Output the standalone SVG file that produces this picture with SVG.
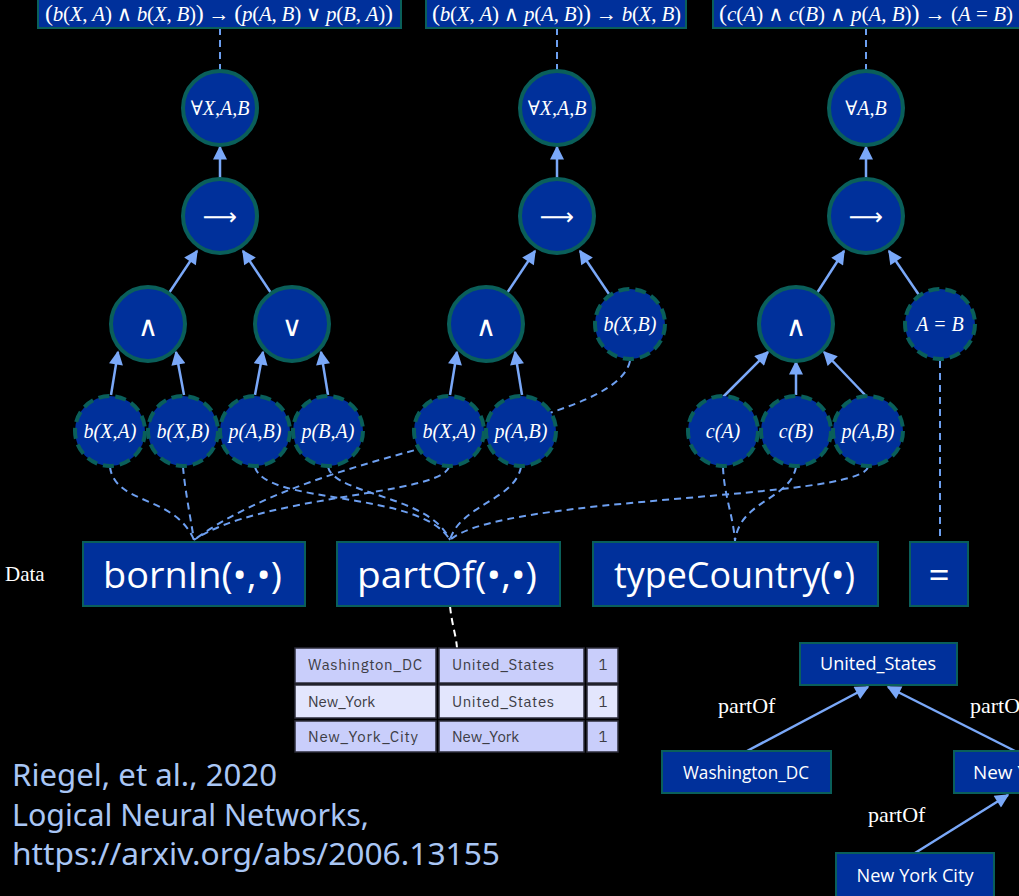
<svg xmlns="http://www.w3.org/2000/svg" width="1019" height="896" viewBox="0 0 1019 896">
  <defs>
    <marker id="tip" viewBox="0 0 10 10" refX="9" refY="5" markerUnits="userSpaceOnUse" markerWidth="15" markerHeight="14" orient="auto">
      <path d="M0,0 L10,5 L0,10 z" fill="#7aa8f8"/>
    </marker>
    <style>
      .node { fill: #00309b; stroke: #0a5f5a; stroke-width: 4; }
      .leaf { fill: #00309b; stroke: #0a5f5a; stroke-width: 4; stroke-dasharray: 11 6; }
      .box { fill: #00309b; stroke: #0a5f5a; stroke-width: 2; }
      .arrow { stroke: #7aa8f8; stroke-width: 2.5; fill: none; marker-end: url(#tip); }
      .dash { stroke: #6d9ff0; stroke-width: 2; fill: none; stroke-dasharray: 7 5; }
      .f { font-family: "Liberation Serif", "DejaVu Serif", serif; font-size: 21px; fill: #ffffff; }
      .i { font-style: italic; }
      .big { font-size: 24px; }
      .lbl { font-family: "Liberation Serif", "DejaVu Serif", serif; font-style: italic; font-size: 20px; fill: #ffffff; text-anchor: middle; }
      .op { font-family: "DejaVu Sans", sans-serif; font-size: 28px; fill: #ffffff; text-anchor: middle; }
      .arr { font-family: "DejaVu Sans", sans-serif; font-size: 24px; fill: #ffffff; text-anchor: middle; }
      .data { font-family: "Open Sans", "Noto Sans", sans-serif; font-size: 37px; fill: #ffffff; }
      .cell1 { fill: #c9cefb; stroke: #2d2d3a; stroke-width: 1.5; }
      .cell2 { fill: #e3e6fd; stroke: #2d2d3a; stroke-width: 1.5; }
      .tt { font-family: "IBM Plex Sans", "Noto Sans", sans-serif; font-size: 15px; fill: #3d3d45; }
      .tb { font-family: "Open Sans", "Noto Sans", sans-serif; font-size: 18px; fill: #ffffff; text-anchor: middle; }
      .tbs { font-family: "Open Sans", "Noto Sans", sans-serif; font-size: 18px; fill: #ffffff; text-anchor: start; }
      .rel { font-family: "Liberation Serif", "DejaVu Serif", serif; font-size: 22px; fill: #ffffff; }
      .cite { font-family: "Noto Sans", "Liberation Sans", sans-serif; font-size: 30px; fill: #a9c6f5; }
    </style>
  </defs>

  <rect width="1019" height="896" fill="#000000"/>

  <!-- connectors: grounding links (dashed) and logic edges (solid) -->
  <g id="connectors">
    <path class="dash" d="M220,28 V70"/>
    <path class="dash" d="M557,28 V70"/>
    <path class="dash" d="M866,28 V70"/>

    <path class="dash" d="M110,467 C115,505 175,495 194,540"/>
    <path class="dash" d="M183,467 C185,490 190,515 194,540"/>
    <path class="dash" d="M449,467 C440,495 260,495 194,540"/>
    <path class="dash" d="M630,361 C615,430 330,440 194,540"/>

    <path class="dash" d="M255,467 C265,505 420,490 450,540"/>
    <path class="dash" d="M328,467 C335,495 430,495 450,540"/>
    <path class="dash" d="M521,467 C515,500 460,505 450,540"/>
    <path class="dash" d="M868,467 C860,500 500,495 450,540"/>

    <path class="dash" d="M723,467 C724,495 733,515 735,541"/>
    <path class="dash" d="M796,467 C790,500 740,500 735,541"/>
    <path class="dash" d="M940,361 V541"/>

    <path class="dash" d="M450,606 C452,625 456,635 457,648" style="stroke:#ffffff"/>

    <line class="arrow" x1="220" y1="180" x2="220" y2="147"/>
    <line class="arrow" x1="169" y1="293" x2="197" y2="251"/>
    <line class="arrow" x1="271" y1="293" x2="243" y2="251"/>
    <line class="arrow" x1="111" y1="395" x2="118" y2="352"/>
    <line class="arrow" x1="184" y1="395" x2="176" y2="352"/>
    <line class="arrow" x1="255" y1="395" x2="263" y2="352"/>
    <line class="arrow" x1="328" y1="395" x2="321" y2="352"/>

    <line class="arrow" x1="557" y1="180" x2="557" y2="147"/>
    <line class="arrow" x1="507" y1="293" x2="535" y2="251"/>
    <line class="arrow" x1="609" y1="294" x2="580" y2="251"/>
    <line class="arrow" x1="450" y1="395" x2="457" y2="352"/>
    <line class="arrow" x1="522" y1="395" x2="515" y2="352"/>

    <line class="arrow" x1="866" y1="180" x2="866" y2="147"/>
    <line class="arrow" x1="817" y1="293" x2="844" y2="251"/>
    <line class="arrow" x1="919" y1="295" x2="889" y2="251"/>
    <line class="arrow" x1="723" y1="397" x2="768" y2="352"/>
    <line class="arrow" x1="796" y1="395" x2="796" y2="362"/>
    <line class="arrow" x1="867" y1="397" x2="824" y2="352"/>

    <line class="arrow" x1="747" y1="751" x2="868" y2="687"/>
    <line class="arrow" x1="1015" y1="751" x2="888" y2="687"/>
    <line class="arrow" x1="915" y1="853" x2="1008" y2="795"/>
  </g>

  <!-- rule formulas -->
  <g id="rule1">
    <rect class="box" x="38" y="-2" width="363" height="30"/>
    <text class="f" x="45" y="21" textLength="348"><tspan class="big">(</tspan><tspan class="i">b</tspan>(<tspan class="i">X</tspan>, <tspan class="i">A</tspan>) ∧ <tspan class="i">b</tspan>(<tspan class="i">X</tspan>, <tspan class="i">B</tspan>)<tspan class="big">)</tspan> → <tspan class="big">(</tspan><tspan class="i">p</tspan>(<tspan class="i">A</tspan>, <tspan class="i">B</tspan>) ∨ <tspan class="i">p</tspan>(<tspan class="i">B</tspan>, <tspan class="i">A</tspan>)<tspan class="big">)</tspan></text>
  </g>
  <g id="rule2">
    <rect class="box" x="426" y="-2" width="260" height="30"/>
    <text class="f" x="432" y="21" textLength="249"><tspan class="big">(</tspan><tspan class="i">b</tspan>(<tspan class="i">X</tspan>, <tspan class="i">A</tspan>) ∧ <tspan class="i">p</tspan>(<tspan class="i">A</tspan>, <tspan class="i">B</tspan>)<tspan class="big">)</tspan> → <tspan class="i">b</tspan>(<tspan class="i">X</tspan>, <tspan class="i">B</tspan>)</text>
  </g>
  <g id="rule3">
    <rect class="box" x="713" y="-2" width="310" height="30"/>
    <text class="f" x="719" y="21" textLength="294"><tspan class="big">(</tspan><tspan class="i">c</tspan>(<tspan class="i">A</tspan>) ∧ <tspan class="i">c</tspan>(<tspan class="i">B</tspan>) ∧ <tspan class="i">p</tspan>(<tspan class="i">A</tspan>, <tspan class="i">B</tspan>)<tspan class="big">)</tspan> → (<tspan class="i">A</tspan> = <tspan class="i">B</tspan>)</text>
  </g>

  <!-- rule 1 tree -->
  <g id="forall1"><circle class="node" cx="220" cy="108" r="37"/><text class="lbl" x="220" y="115" font-size="19">∀X,A,B</text></g>
  <g id="impl1"><circle class="node" cx="220" cy="216" r="37"/><text class="arr" x="220" y="225">⟶</text></g>
  <g id="and1"><circle class="node" cx="148" cy="324" r="37"/><text class="op" x="148" y="336">∧</text></g>
  <g id="or1"><circle class="node" cx="292" cy="324" r="37"/><text class="op" x="292" y="336">∨</text></g>
  <g id="b_XA_1"><circle class="leaf" cx="110" cy="431" r="35"/><text class="lbl" x="110" y="438">b(X,A)</text></g>
  <g id="b_XB_1"><circle class="leaf" cx="183" cy="431" r="35"/><text class="lbl" x="183" y="438">b(X,B)</text></g>
  <g id="p_AB_1"><circle class="leaf" cx="255" cy="431" r="35"/><text class="lbl" x="255" y="438">p(A,B)</text></g>
  <g id="p_BA_1"><circle class="leaf" cx="328" cy="431" r="35"/><text class="lbl" x="328" y="438">p(B,A)</text></g>

  <!-- rule 2 tree -->
  <g id="forall2"><circle class="node" cx="557" cy="108" r="37"/><text class="lbl" x="557" y="115" font-size="19">∀X,A,B</text></g>
  <g id="impl2"><circle class="node" cx="557" cy="216" r="37"/><text class="arr" x="557" y="225">⟶</text></g>
  <g id="and2"><circle class="node" cx="486" cy="324" r="37"/><text class="op" x="486" y="336">∧</text></g>
  <g id="b_XB_2"><circle class="leaf" cx="630" cy="324" r="35"/><text class="lbl" x="630" y="331">b(X,B)</text></g>
  <g id="b_XA_2"><circle class="leaf" cx="449" cy="431" r="35"/><text class="lbl" x="449" y="438">b(X,A)</text></g>
  <g id="p_AB_2"><circle class="leaf" cx="521" cy="431" r="35"/><text class="lbl" x="521" y="438">p(A,B)</text></g>

  <!-- rule 3 tree -->
  <g id="forall3"><circle class="node" cx="866" cy="108" r="37"/><text class="lbl" x="866" y="115" font-size="19">∀A,B</text></g>
  <g id="impl3"><circle class="node" cx="866" cy="216" r="37"/><text class="arr" x="866" y="225">⟶</text></g>
  <g id="and3"><circle class="node" cx="796" cy="324" r="37"/><text class="op" x="796" y="336">∧</text></g>
  <g id="eq_AB"><circle class="leaf" cx="940" cy="324" r="35"/><text class="lbl" x="940" y="331" font-size="19">A = B</text></g>
  <g id="c_A"><circle class="leaf" cx="723" cy="431" r="35"/><text class="lbl" x="723" y="438">c(A)</text></g>
  <g id="c_B"><circle class="leaf" cx="796" cy="431" r="35"/><text class="lbl" x="796" y="438">c(B)</text></g>
  <g id="p_AB_3"><circle class="leaf" cx="868" cy="431" r="35"/><text class="lbl" x="868" y="438">p(A,B)</text></g>

  <!-- data predicates -->
  <text x="5" y="581" font-family="Liberation Serif, serif" font-size="21" fill="#ffffff">Data</text>
  <g id="bornIn"><rect class="box" x="83" y="542" width="222" height="64"/><text class="data" x="103" y="588" textLength="179" lengthAdjust="spacingAndGlyphs">bornIn(•,•)</text></g>
  <g id="partOf"><rect class="box" x="337" y="542" width="223" height="64"/><text class="data" x="357" y="588" textLength="180" lengthAdjust="spacingAndGlyphs">partOf(•,•)</text></g>
  <g id="typeCountry"><rect class="box" x="593" y="542" width="285" height="64"/><text class="data" x="614" y="588" textLength="241" lengthAdjust="spacingAndGlyphs">typeCountry(•)</text></g>
  <g id="equals"><rect class="box" x="910" y="542" width="58" height="64"/><text class="data" x="939" y="588" text-anchor="middle">=</text></g>

  <!-- partOf table -->
  <g id="partOfTable">
    <rect class="cell1" x="295" y="648" width="141" height="35"/>
    <rect class="cell1" x="439" y="648" width="145" height="35"/>
    <rect class="cell1" x="587" y="648" width="31" height="35"/>
    <rect class="cell2" x="295" y="685" width="141" height="33"/>
    <rect class="cell2" x="439" y="685" width="145" height="33"/>
    <rect class="cell2" x="587" y="685" width="31" height="33"/>
    <rect class="cell1" x="295" y="721" width="141" height="31"/>
    <rect class="cell1" x="439" y="721" width="145" height="31"/>
    <rect class="cell1" x="587" y="721" width="31" height="31"/>
    <text class="tt" x="308" y="670" textLength="114">Washington_DC</text>
    <text class="tt" x="452" y="670" textLength="102">United_States</text>
    <text class="tt" x="603" y="670" text-anchor="middle">1</text>
    <text class="tt" x="308" y="707">New_York</text>
    <text class="tt" x="452" y="707" textLength="102">United_States</text>
    <text class="tt" x="603" y="707" text-anchor="middle">1</text>
    <text class="tt" x="308" y="742" textLength="110">New_York_City</text>
    <text class="tt" x="452" y="742">New_York</text>
    <text class="tt" x="603" y="742" text-anchor="middle">1</text>
  </g>

  <!-- partOf graph -->
  <g id="unitedStates"><rect class="box" x="800" y="643" width="157" height="42"/><text class="tb" x="878" y="670" textLength="116" lengthAdjust="spacingAndGlyphs">United_States</text></g>
  <g id="washingtonDC"><rect class="box" x="662" y="751" width="169" height="42"/><text class="tb" x="746" y="779" textLength="126" lengthAdjust="spacingAndGlyphs">Washington_DC</text></g>
  <g id="newYork"><rect class="box" x="954" y="751" width="90" height="42"/><text class="tbs" x="973" y="779" textLength="84" lengthAdjust="spacingAndGlyphs">New York</text></g>
  <g id="newYorkCity"><rect class="box" x="836" y="853" width="158" height="46"/><text class="tb" x="915" y="882" textLength="117" lengthAdjust="spacingAndGlyphs">New York City</text></g>
  <text class="rel" x="718" y="713">partOf</text>
  <text class="rel" x="970" y="713">partOf</text>
  <text class="rel" x="868" y="822">partOf</text>

  <!-- reference -->
  <text class="cite" x="12" y="786" textLength="265" lengthAdjust="spacingAndGlyphs">Riegel, et al., 2020</text>
  <text class="cite" x="12" y="826" textLength="357" lengthAdjust="spacingAndGlyphs">Logical Neural Networks,</text>
  <text class="cite" x="12" y="865" textLength="488" lengthAdjust="spacingAndGlyphs">https://arxiv.org/abs/2006.13155</text>
</svg>
